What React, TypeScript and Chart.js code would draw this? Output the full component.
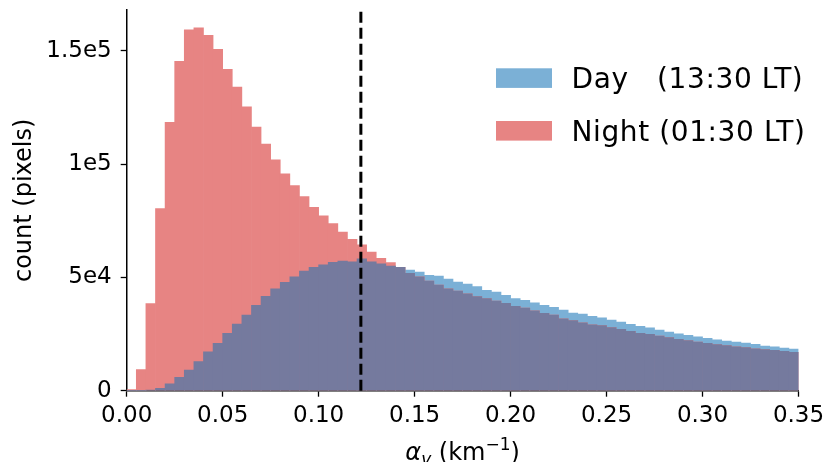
import React, { useEffect, useRef } from "react";
import { Chart, registerables } from "chart.js";

Chart.register(...registerables);

const BIN_WIDTH = 0.005;
const BIN_CENTERS: number[] = Array.from({ length: 70 }, (_, i) => +(i * BIN_WIDTH + BIN_WIDTH / 2).toFixed(4));

const DAY_COUNTS: number[] = [
  0, 0, 300, 1000, 3000, 5900, 9100, 12800, 17100, 20900,
  25300, 29400, 33400, 37700, 41600, 44900, 47800, 50300, 52800, 54400,
  55600, 56600, 57200, 56900, 58200, 56900, 56000, 55000, 54400, 53200,
  52400, 50900, 50600, 49300, 47900, 47100, 45900, 44300, 43500, 42100,
  40600, 39900, 38800, 37700, 36800, 35600, 34200, 33800, 32800, 32200,
  31200, 30300, 29300, 28400, 27700, 26800, 25900, 25100, 24400, 23800,
  23100, 22500, 21900, 21500, 21000, 20500, 19700, 19400, 18800, 18400,
];

const NIGHT_COUNTS: number[] = [
  500, 9300, 38400, 80400, 118400, 145400, 159200, 160100, 156800, 150600,
  141800, 134000, 125300, 116300, 108800, 101900, 95700, 90500, 85700, 80900,
  77200, 73700, 70000, 66800, 64400, 61200, 58400, 56500, 54400, 51800,
  50300, 48400, 46600, 44900, 44000, 42800, 41500, 40600, 39600, 38600,
  37200, 36500, 35300, 34100, 33400, 31700, 30900, 30000, 29100, 28700,
  27800, 27100, 26200, 25300, 24900, 24100, 23400, 22700, 22100, 21500,
  20900, 20300, 19900, 19400, 19000, 18500, 18100, 17800, 17400, 16900,
];

const THRESHOLD = 0.122;
const X_TICKS: number[] = [0, 0.05, 0.1, 0.15, 0.2, 0.25, 0.3, 0.35];
const Y_TICKS: number[] = [0, 50000, 100000, 150000];
const Y_TICK_LABELS: string[] = ["0", "5e4", "1e5", "1.5e5"];
const LEGEND_LABELS: string[] = ["Day   (13:30 LT)", "Night (01:30 LT)"];
const X_TITLE_PARTS: string[] = ["α", "v", " (km", "−1", ")"];
const Y_TITLE = "count (pixels)";

const DAY_COLOR = "rgb(123,176,214)";
const NIGHT_COLOR = "rgb(231,132,131)";
const OVERLAP_COLOR = "rgb(117,122,158)";
const FONT = "'DejaVu Sans', sans-serif";

export default function App() {
  const ref = useRef<HTMLCanvasElement | null>(null);

  useEffect(() => {
    const canvas = ref.current;
    if (!canvas) return;

    const overlap = DAY_COUNTS.map((d, i) => Math.min(d, NIGHT_COUNTS[i]));

    const extras = {
      id: "extras",
      afterDatasetsDraw(chart: any) {
        const { ctx, chartArea, scales } = chart;
        const x = scales.x.getPixelForValue(THRESHOLD);
        ctx.save();
        ctx.strokeStyle = "#000";
        ctx.lineWidth = 3;
        ctx.setLineDash([11, 5]);
        ctx.beginPath();
        ctx.moveTo(x, chartArea.bottom);
        ctx.lineTo(x, chartArea.top);
        ctx.stroke();
        ctx.restore();
      },
      afterDraw(chart: any) {
        const { ctx, chartArea } = chart;
        ctx.save();
        // legend
        const colors = [DAY_COLOR, NIGHT_COLOR];
        const ys = [68.3, 121];
        ctx.font = `28px ${FONT}`;
        (ctx as any).letterSpacing = "0.6px";
        ctx.textBaseline = "alphabetic";
        ctx.textAlign = "left";
        LEGEND_LABELS.forEach((label, i) => {
          ctx.fillStyle = colors[i];
          ctx.fillRect(496, ys[i], 56, 19.6);
          ctx.fillStyle = "#000";
          ctx.fillText(label, 571.5, ys[i] + 19.6);
        });
        (ctx as any).letterSpacing = "0px";

        // x-axis title with subscript / superscript
        const big = `24px ${FONT}`;
        const bigIt = `italic 24px ${FONT}`;
        const small = `17px ${FONT}`;
        const smallIt = `italic 17px ${FONT}`;
        const fonts = [bigIt, smallIt, big, small, big];
        const shifts = [0, 5, 0, -10, 0];
        const widths = X_TITLE_PARTS.map((p, i) => {
          ctx.font = fonts[i];
          return ctx.measureText(p).width;
        });
        const total = widths.reduce((a, b) => a + b, 0);
        let x = (chartArea.left + chartArea.right) / 2 - total / 2;
        const baseline = 460;
        ctx.fillStyle = "#000";
        X_TITLE_PARTS.forEach((p, i) => {
          ctx.font = fonts[i];
          ctx.fillText(p, x, baseline + shifts[i]);
          x += widths[i];
        });
        ctx.restore();
      },
    };

    const chart = new Chart(canvas, {
      type: "bar",
      data: {
        datasets: [
          {
            label: "overlap",
            data: BIN_CENTERS.map((c, i) => ({ x: c, y: overlap[i] })),
            backgroundColor: OVERLAP_COLOR,
          },
          {
            label: "Night (01:30 LT)",
            data: BIN_CENTERS.map((c, i) => ({ x: c, y: NIGHT_COUNTS[i] })),
            backgroundColor: NIGHT_COLOR,
          },
          {
            label: "Day (13:30 LT)",
            data: BIN_CENTERS.map((c, i) => ({ x: c, y: DAY_COUNTS[i] })),
            backgroundColor: DAY_COLOR,
          },
        ],
      },
      options: {
        responsive: false,
        animation: false,
        events: [],
        layout: { padding: { top: 10, right: 29.5, left: 0, bottom: 0 } },
        datasets: {
          bar: {
            grouped: false,
            barPercentage: 1,
            categoryPercentage: 1,
            borderWidth: 0,
          },
        },
        plugins: {
          legend: { display: false },
          tooltip: { enabled: false },
        },
        scales: {
          x: {
            type: "linear",
            min: 0,
            max: 0.35,
            offset: false,
            afterBuildTicks: (scale: any) => {
              scale.ticks = X_TICKS.map((v) => ({ value: v }));
            },
            afterFit: (scale: any) => {
              scale.height = 462 - 390.7;
              scale.paddingLeft = 0;
              scale.paddingRight = 0;
            },
            ticks: {
              autoSkip: false,
              maxRotation: 0,
              padding: 6,
              color: "#000",
              font: { family: FONT, size: 23 },
              callback: (v: any) => Number(v).toFixed(2),
            },
            grid: {
              display: true,
              offset: false,
              drawOnChartArea: false,
              drawTicks: true,
              tickLength: 6,
              tickColor: "#000",
              tickWidth: 1.3,
            },
            border: { display: true, color: "#000", width: 1.5 },
            title: { display: false },
          },
          y: {
            type: "linear",
            min: 0,
            max: 168000,
            afterBuildTicks: (scale: any) => {
              scale.ticks = Y_TICKS.map((v) => ({ value: v }));
            },
            afterFit: (scale: any) => {
              scale.width = 126.7;
              scale.paddingTop = 0;
              scale.paddingBottom = 0;
            },
            ticks: {
              color: "#000",
              padding: 9,
              font: { family: FONT, size: 23 },
              callback: (v: any) => {
                const idx = Y_TICKS.indexOf(Number(v));
                return idx >= 0 ? Y_TICK_LABELS[idx] : "";
              },
            },
            grid: {
              display: true,
              offset: false,
              drawOnChartArea: false,
              drawTicks: true,
              tickLength: 6,
              tickColor: "#000",
              tickWidth: 1.3,
            },
            border: { display: true, color: "#000", width: 1.5 },
            title: {
              display: true,
              text: Y_TITLE,
              color: "#000",
              font: { family: FONT, size: 24 },
              padding: { top: 10, bottom: 0 },
            },
          },
        },
      },
      plugins: [extras],
    });

    return () => chart.destroy();
  }, []);

  return (
    <div style={{ position: "fixed", left: 0, top: 0, width: 828, height: 462, background: "#fff" }}>
      <canvas ref={ref} width={828} height={462} style={{ display: "block", width: 828, height: 462 }} />
    </div>
  );
}
